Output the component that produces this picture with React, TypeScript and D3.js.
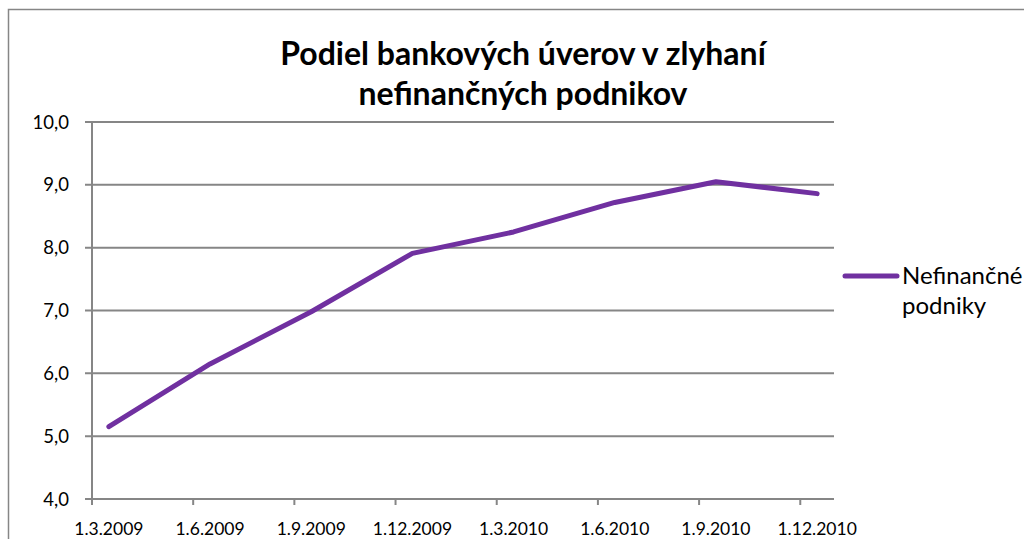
import React from "react";
import * as d3 from "d3";

const dates = ["1.3.2009", "1.6.2009", "1.9.2009", "1.12.2009", "1.3.2010", "1.6.2010", "1.9.2010", "1.12.2010"];
const values = [5.15, 6.15, 6.98, 7.91, 8.25, 8.72, 9.05, 8.86];
const yTicks = [4, 5, 6, 7, 8, 9, 10];
const titleLines = ["Podiel bankových úverov v zlyhaní", "nefinančných podnikov"];
const seriesName = ["Nefinančné", "podniky"];

const W = 1024, H = 539;
const FONT = "Lato, 'Open Sans', sans-serif";
const GRAY = "#868686";
const PURPLE = "#7030A0";

function monthIndex(s: string) {
  const [, m, y] = s.split(".").map(Number);
  return (y - 2009) * 12 + (m - 3);
}

export default function App() {
  const x = d3.scaleLinear().domain([0, 22]).range([92, 834]);
  const y = d3.scaleLinear().domain([4, 10]).range([499, 122]);
  const pts = dates.map((d, i) => [x(monthIndex(d) + 0.5), y(values[i])] as [number, number]);
  const line = d3.line()(pts) || "";
  const fmt = (v: number) => d3.format(".1f")(v).replace(".", ",");
  return (
    <svg width={W} height={H} style={{ position: "fixed", left: 0, top: 0, background: "#fff" }} fontFamily={FONT}>
      <rect x={0} y={0} width={W} height={H} fill="#fff" />
      <rect x={8.5} y={9.5} width={1030} height={560} fill="none" stroke={GRAY} strokeWidth={1.5} />
      {titleLines.map((t, i) => (
        <text key={i} x={523} y={65 + i * 40} textAnchor="middle" fontSize={32} fontWeight="bold" fill="#000">{t}</text>
      ))}
      {yTicks.map((v) => (
        <g key={v}>
          <line x1={85} x2={x(22)} y1={y(v)} y2={y(v)} stroke={GRAY} strokeWidth={2} />
          <text x={69} y={y(v)} dy="0.36em" textAnchor="end" fontSize={18.5} fill="#000">{fmt(v)}</text>
        </g>
      ))}
      <line x1={x(0)} x2={x(0)} y1={y(10)} y2={y(4)} stroke={GRAY} strokeWidth={2} />
      {dates.map((d) => {
        const mi = monthIndex(d);
        return (
          <g key={d}>
            <line x1={x(mi)} x2={x(mi)} y1={y(4)} y2={y(4) + 6} stroke={GRAY} strokeWidth={2} />
            <text x={x(mi + 0.5)} y={535} textAnchor="middle" fontSize={17.5} fill="#000">{d}</text>
          </g>
        );
      })}
      <path d={line} fill="none" stroke={PURPLE} strokeWidth={5} strokeLinecap="round" strokeLinejoin="round" />
      <line x1={845} x2={897} y1={276} y2={276} stroke={PURPLE} strokeWidth={5} strokeLinecap="round" />
      {seriesName.map((t, i) => (
        <text key={i} x={902} y={284 + i * 30} fontSize={24} fill="#000">{t}</text>
      ))}
    </svg>
  );
}
